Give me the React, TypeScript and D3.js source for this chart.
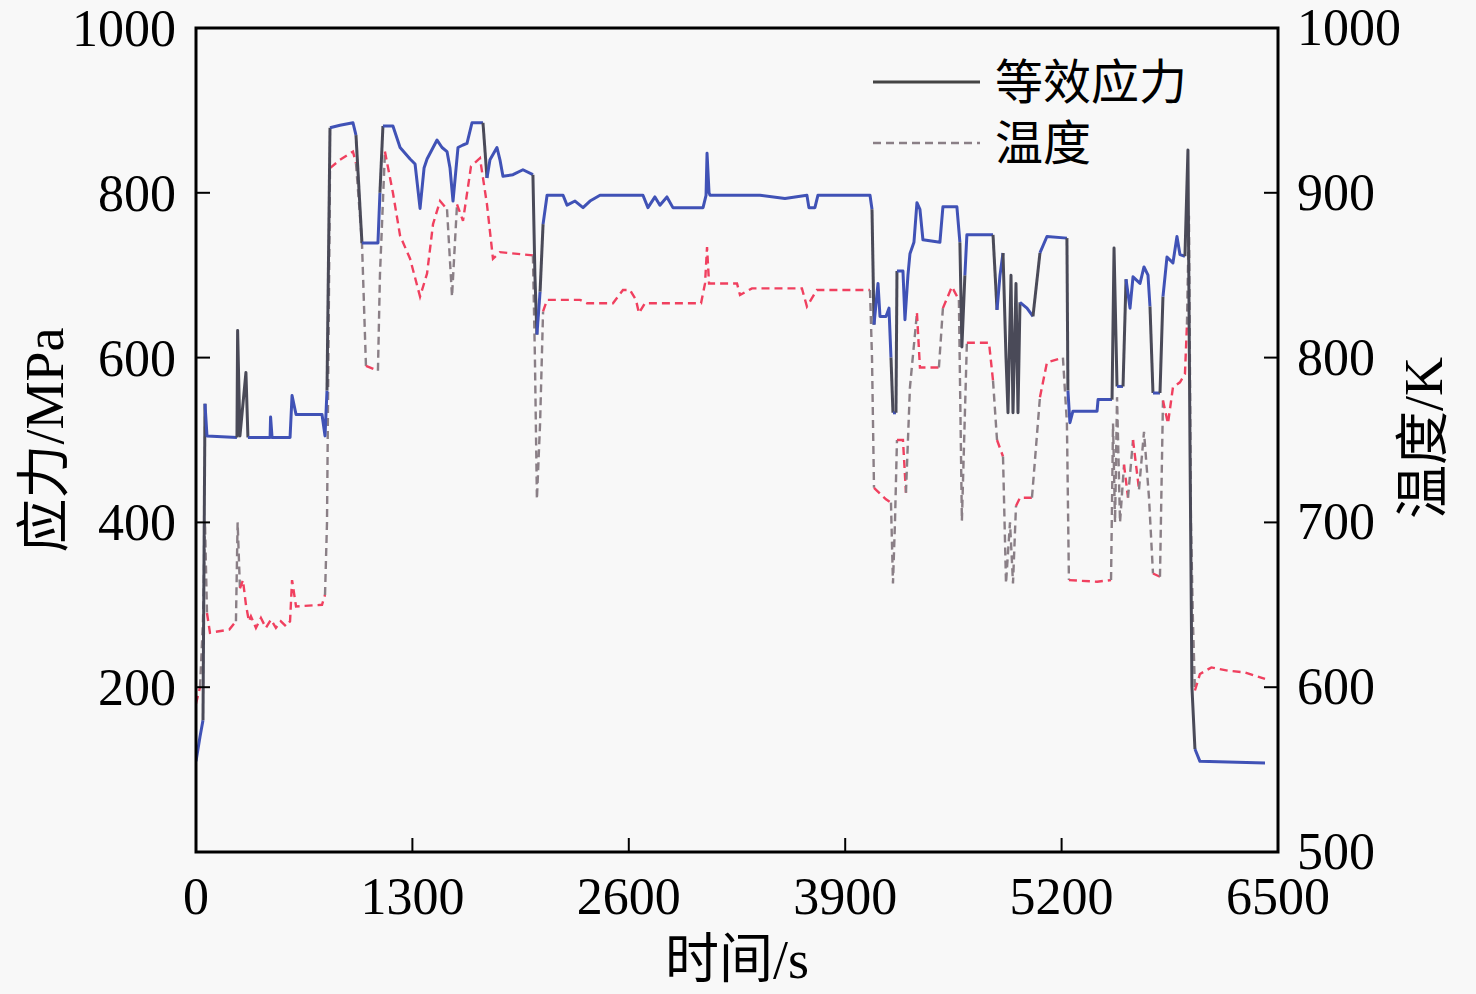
import React from 'react';
import * as d3 from 'd3';

const stressTime = [
  0, 24, 42, 54, 66, 246, 250, 264, 300, 312,
  445, 448, 457, 565, 577, 601, 757, 775, 787, 805,
  865, 943, 961, 997, 1093, 1105, 1123, 1183, 1226, 1286,
  1316, 1346, 1370, 1388, 1448, 1478, 1508, 1526, 1544, 1574,
  1604, 1628, 1658, 1724, 1748, 1766, 1808, 1826, 1844, 1904,
  1964, 2024, 2036, 2048, 2067, 2085, 2109, 2205, 2229, 2277,
  2325, 2367, 2427, 2685, 2715, 2757, 2787, 2829, 2865, 3046,
  3064, 3070, 3082, 3088, 3388, 3538, 3670, 3682, 3718, 3736,
  4049, 4061, 4073, 4097, 4109, 4145, 4163, 4175, 4187, 4205,
  4211, 4247, 4259, 4277, 4289, 4313, 4331, 4349, 4367, 4469,
  4487, 4571, 4589, 4601, 4619, 4631, 4788, 4812, 4830, 4848,
  4866, 4878, 4896, 4908, 4926, 4938, 4950, 4992, 5028, 5070,
  5112, 5232, 5238, 5250, 5268, 5413, 5419, 5503, 5515, 5533,
  5569, 5587, 5611, 5629, 5671, 5695, 5719, 5731, 5749, 5791,
  5809, 5833, 5869, 5893, 5911, 5941, 5959, 5971, 5983, 6001,
  6031, 6422,
];
const stressValue = [
  110, 140, 160, 544, 505, 503, 633, 505, 582, 503,
  503, 528, 503, 503, 554, 531, 531, 505, 560, 879,
  882, 885, 870, 739, 739, 800, 881, 881, 855, 841,
  835, 781, 830, 841, 864, 855, 850, 830, 790, 855,
  858, 860, 885, 885, 818, 840, 855, 840, 820, 822,
  828, 822, 700, 628, 680, 762, 797, 797, 785, 790,
  782, 790, 797, 797, 782, 795, 785, 795, 782, 782,
  797, 848, 800, 797, 797, 793, 797, 782, 782, 797,
  797, 780, 640, 690, 650, 650, 660, 600, 533, 533,
  705, 705, 646, 700, 726, 740, 788, 780, 743, 740,
  783, 783, 740, 613, 700, 749, 749, 658, 700, 727,
  600, 533, 700, 533, 690, 533, 667, 660, 650, 727,
  747, 745, 560, 521, 535, 535, 549, 549, 733, 565,
  565, 695, 660, 698, 690, 710, 700, 662, 557, 557,
  674, 722, 715, 747, 725, 723, 852, 500, 200, 125,
  110, 108,
];

const tempTime = [
  0, 24, 42, 54, 66, 84, 200, 240, 250, 264,
  282, 300, 318, 330, 360, 390, 420, 450, 480, 510,
  540, 565, 577, 601, 757, 775, 787, 805, 865, 943,
  961, 997, 1021, 1093, 1105, 1135, 1183, 1226, 1286, 1346,
  1388, 1424, 1466, 1508, 1538, 1568, 1604, 1652, 1706, 1748,
  1784, 1826, 2024, 2036, 2048, 2067, 2085, 2109, 2307, 2349,
  2505, 2565, 2607, 2643, 2661, 2697, 3034, 3058, 3070, 3082,
  3250, 3268, 3340, 3640, 3670, 3694, 3730, 4049, 4061, 4073,
  4145, 4175, 4187, 4199, 4211, 4247, 4265, 4289, 4331, 4349,
  4463, 4487, 4541, 4583, 4601, 4631, 4764, 4788, 4812, 4848,
  4866, 4890, 4908, 4926, 4950, 5022, 5070, 5112, 5208, 5232,
  5244, 5413, 5497, 5509, 5521, 5533, 5551, 5575, 5599, 5629,
  5665, 5695, 5725, 5749, 5791, 5809, 5839, 5869, 5911, 5941,
  5953, 5965, 5977, 5989, 6001, 6031, 6100, 6200, 6300, 6422,
];
const tempValue = [
  590, 600, 640, 700, 645, 633, 635, 640, 700, 660,
  665, 650, 640, 643, 636, 642, 636, 641, 636, 640,
  637, 640, 665, 649, 650, 656, 700, 915, 920, 925,
  918, 870, 795, 792, 850, 925, 900, 874, 860, 837,
  851, 881, 895, 890, 837, 893, 883, 916, 921, 893,
  860, 864, 862, 800, 714, 760, 828, 835, 835, 833,
  833, 841, 841, 835, 827, 833, 833, 845, 867, 845,
  845, 838, 842, 842, 831, 835, 841, 841, 800, 721,
  714, 712, 663, 700, 750, 750, 718, 782, 827, 794,
  794, 830, 843, 835, 701, 809, 809, 786, 750, 740,
  663, 700, 663, 710, 715, 715, 776, 797, 800, 760,
  665, 664, 665, 760, 700, 776, 700, 735, 715, 750,
  720, 755, 715, 669, 667, 774, 760, 782, 785, 790,
  820, 886, 700, 640, 598, 608, 612, 610, 609, 605,
];

const xTicks = [0, 1300, 2600, 3900, 5200, 6500];
const leftTicks = [200, 400, 600, 800, 1000];
const rightTicks = [500, 600, 700, 800, 900, 1000];
const legendLabels = ['等效应力', '温度'];
const xTitle = '时间/s';
const leftTitle = '应力/MPa';
const rightTitle = '温度/K';

const W = 1476;
const H = 994;
const L = 196, R = 1278, T = 28, B = 852;
const SERIF = "'Liberation Serif', 'Times New Roman', 'Noto Sans CJK SC', serif";
const CJK = "'Liberation Serif', 'Noto Sans CJK SC', serif";

type Pt = [number, number];

function runs(points: Pt[]): { steep: boolean; pts: Pt[] }[] {
  const out: { steep: boolean; pts: Pt[] }[] = [];
  for (let i = 1; i < points.length; i++) {
    const [x0, y0] = points[i - 1];
    const [x1, y1] = points[i];
    const dx = Math.abs(x1 - x0);
    const dy = Math.abs(y1 - y0);
    const steep = dy > 55 && dy > 6 * dx;
    const last = out[out.length - 1];
    if (last && last.steep === steep) last.pts.push(points[i]);
    else out.push({ steep, pts: [points[i - 1], points[i]] });
  }
  return out;
}

export default function App() {
  const x = d3.scaleLinear().domain([0, 6500]).range([L, R]);
  const yL = d3.scaleLinear().domain([0, 1000]).range([B, T]);
  const yR = d3.scaleLinear().domain([500, 1000]).range([B, T]);
  const line = d3.line<Pt>().x((d) => d[0]).y((d) => d[1]);

  const sPts: Pt[] = stressTime.map((t, i) => [x(t), yL(stressValue[i])]);
  const tPts: Pt[] = tempTime.map((t, i) => [x(t), yR(tempValue[i])]);
  const sRuns = runs(sPts);
  const tRuns = runs(tPts);

  return (
    <div style={{ position: 'fixed', left: 0, top: 0, width: W, height: H }}>
      <svg width={W} height={H} viewBox={`0 0 ${W} ${H}`} style={{ display: 'block' }}>
        <rect x={0} y={0} width={W} height={H} fill="#f8f8f8" />
        <defs>
          <clipPath id="plot">
            <rect x={L} y={T} width={R - L} height={B - T} />
          </clipPath>
        </defs>

        <g clipPath="url(#plot)">
          {tRuns.map((r, i) => (
            <path
              key={'t' + i}
              d={line(r.pts) || ''}
              fill="none"
              stroke={r.steep ? '#8a7f86' : '#f0405f'}
              strokeWidth={2.4}
              strokeDasharray="8 5"
            />
          ))}
          {sRuns.map((r, i) => (
            <path
              key={'s' + i}
              d={line(r.pts) || ''}
              fill="none"
              stroke={r.steep ? '#4a4a58' : '#4052b6'}
              strokeWidth={3}
              strokeLinejoin="round"
            />
          ))}
        </g>

        {/* frame */}
        <rect x={L} y={T} width={R - L} height={B - T} fill="none" stroke="#000" strokeWidth={3} />

        {/* x ticks */}
        {xTicks.map((t) => (
          <g key={'x' + t}>
            <line x1={x(t)} x2={x(t)} y1={B} y2={B - 14} stroke="#000" strokeWidth={2} />
            <text x={x(t)} y={914} textAnchor="middle" fontFamily={SERIF} fontSize={52} fill="#000">
              {t}
            </text>
          </g>
        ))}
        {/* left ticks */}
        {leftTicks.map((t) => (
          <g key={'l' + t}>
            <line x1={L} x2={L + 14} y1={yL(t)} y2={yL(t)} stroke="#000" strokeWidth={2} />
            <text x={176} y={yL(t) + 18} textAnchor="end" fontFamily={SERIF} fontSize={52} fill="#000">
              {t}
            </text>
          </g>
        ))}
        {/* right ticks */}
        {rightTicks.map((t) => (
          <g key={'r' + t}>
            <line x1={R - 14} x2={R} y1={yR(t)} y2={yR(t)} stroke="#000" strokeWidth={2} />
            <text x={1297} y={yR(t) + 17} textAnchor="start" fontFamily={SERIF} fontSize={52} fill="#000">
              {t}
            </text>
          </g>
        ))}

        {/* axis titles */}
        <text x={737} y={978} textAnchor="middle" fontFamily={CJK} fontSize={54} fill="#000">
          {xTitle}
        </text>
        <text
          transform={`translate(63,440) rotate(-90)`}
          textAnchor="middle"
          fontFamily={CJK}
          fontSize={54}
          fill="#000"
        >
          {leftTitle}
        </text>
        <text
          transform={`translate(1442,438) rotate(-90)`}
          textAnchor="middle"
          fontFamily={CJK}
          fontSize={54}
          fill="#000"
        >
          {rightTitle}
        </text>

        {/* legend */}
        <line x1={873} x2={980} y1={82} y2={82} stroke="#444" strokeWidth={3} />
        <text x={995} y={99} fontFamily={CJK} fontSize={48} fill="#000">
          {legendLabels[0]}
        </text>
        <line x1={873} x2={980} y1={143} y2={143} stroke="#8a7f86" strokeWidth={2.4} strokeDasharray="8 5" />
        <text x={995} y={160} fontFamily={CJK} fontSize={48} fill="#000">
          {legendLabels[1]}
        </text>
      </svg>
    </div>
  );
}
